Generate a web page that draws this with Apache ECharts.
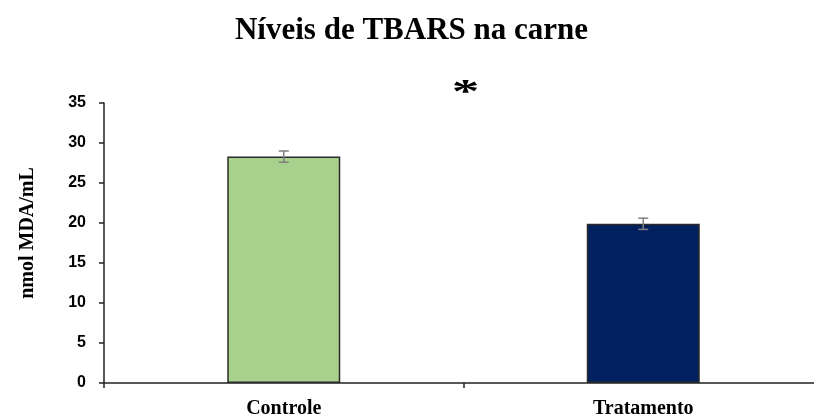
<!DOCTYPE html>
<html>
<head>
<meta charset="utf-8">
<script src="https://cdn.jsdelivr.net/npm/echarts@6/dist/echarts.min.js"></script>
<style>html,body{margin:0;padding:0;background:#fff;overflow:hidden;width:814px;height:419px}#c{width:823px;height:419px}</style>
</head>
<body>
<div id="c"></div>
<script>
const categories = ['Controle', 'Tratamento'];
const values = [28.3, 19.9];
const errors = [0.7, 0.7];
const barColors = ['#a9d18e', '#002060'];
const yTicks = { min: 0, max: 35, interval: 5 };

const chart = echarts.init(document.getElementById('c'));
const errData = categories.map((c, i) => [i, values[i] - errors[i], values[i] + errors[i]]);

chart.setOption({
  animation: false,
  backgroundColor: '#fff',
  title: {
    text: 'Níveis de TBARS na carne',
    left: 'center',
    top: 10,
    textStyle: { fontFamily: 'Liberation Serif', fontWeight: 'bold', fontSize: 31, color: '#000' }
  },
  grid: { left: 104, top: 103, right: 0, bottom: 36, containLabel: false },
  xAxis: {
    type: 'category',
    data: categories,
    axisLine: { lineStyle: { color: '#222', width: 1.5 } },
    axisTick: { show: true, length: 5, lineStyle: { color: '#222', width: 1.5 } },
    axisLabel: { fontFamily: 'Liberation Serif', fontWeight: 'bold', fontSize: 20, color: '#000', margin: 16 }
  },
  yAxis: {
    type: 'value',
    min: yTicks.min, max: yTicks.max, interval: yTicks.interval,
    name: 'nmol MDA/mL',
    nameLocation: 'middle',
    nameGap: 66,
    nameTextStyle: { fontFamily: 'Liberation Serif', fontWeight: 'bold', fontSize: 20, color: '#000', padding: [0, 0, 0, 20] },
    splitLine: { show: false },
    axisLine: { show: true, lineStyle: { color: '#222', width: 1.5 } },
    axisTick: { show: true, length: 5, lineStyle: { color: '#222', width: 1.5 } },
    axisLabel: { fontFamily: 'Liberation Sans', fontWeight: 'bold', fontSize: 16, color: '#000', margin: 18 }
  },
  series: [
    {
      type: 'bar',
      barWidth: 113,
      data: values.map((v, i) => ({ value: v, itemStyle: { color: barColors[i], borderColor: '#2a2a2a', borderWidth: 1.5 } }))
    },
    {
      type: 'custom',
      data: errData,
      z: 10,
      renderItem: function (params, api) {
        const x = api.coord([api.value(0), api.value(1)])[0];
        const lo = api.coord([api.value(0), api.value(1)])[1];
        const hi = api.coord([api.value(0), api.value(2)])[1];
        const hw = 5;
        const style = { stroke: '#7f7f7f', lineWidth: 1.5 };
        return {
          type: 'group',
          children: [
            { type: 'line', shape: { x1: x, y1: lo, x2: x, y2: hi }, style },
            { type: 'line', shape: { x1: x - hw, y1: lo, x2: x + hw, y2: lo }, style },
            { type: 'line', shape: { x1: x - hw, y1: hi, x2: x + hw, y2: hi }, style }
          ]
        };
      }
    }
  ]
});

// significance asterisk centered between the two categories
const p0 = chart.convertToPixel({ seriesIndex: 0 }, [0, 0]);
const p1 = chart.convertToPixel({ seriesIndex: 0 }, [1, 0]);
const pTop = chart.convertToPixel({ seriesIndex: 0 }, [0, yTicks.max]);
chart.setOption({
  graphic: [{
    type: 'text',
    x: (p0[0] + p1[0]) / 2 + 2,
    y: pTop[1] - 27,
    scaleX: 1.2,
    scaleY: 0.75,
    style: { text: '*', fontFamily: 'Liberation Serif', fontWeight: 'bold', fontSize: 46, fill: '#000', textAlign: 'center', textVerticalAlign: 'top' }
  }]
});
</script>
</body>
</html>
